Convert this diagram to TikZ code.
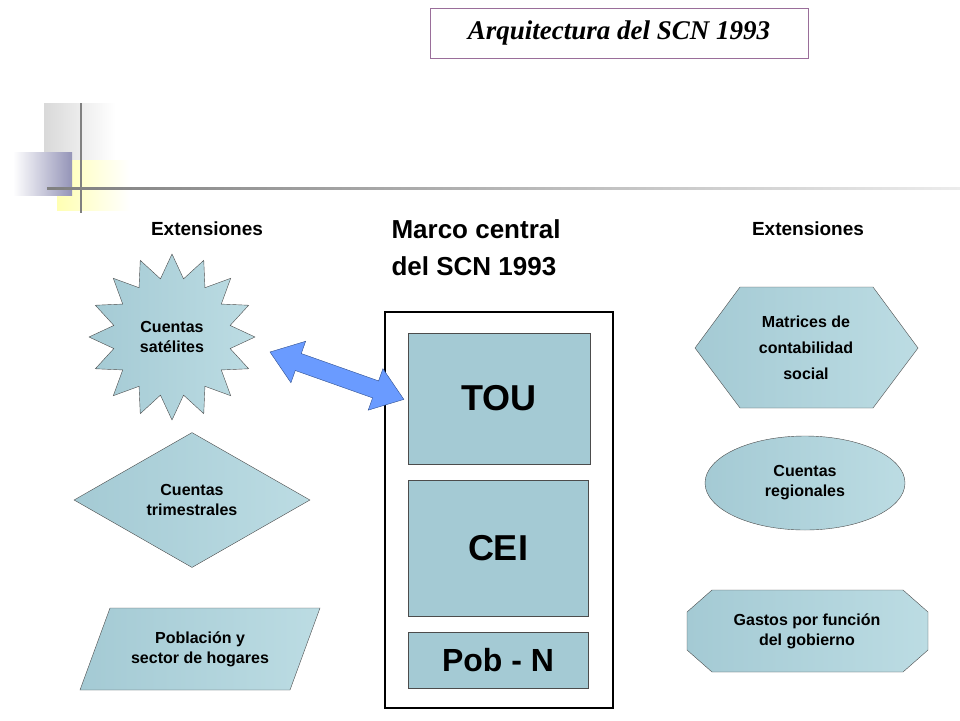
\documentclass[tikz,border=0pt]{standalone}
\usepackage{fontspec}
\setmainfont{Liberation Sans}
\newfontfamily\titlefont{Liberation Serif}
\usetikzlibrary{shapes.geometric, positioning}
\definecolor{boxblue}{HTML}{A4CAD4}
\definecolor{boxlight}{HTML}{BCDCE3}
\definecolor{arrowblue}{HTML}{6A9BFF}
\definecolor{arrowline}{HTML}{2E4F8F}
\definecolor{titleframe}{HTML}{9A6E9A}
\tikzset{
  ext/.style={left color=boxblue, right color=boxlight, draw=black!70, thin},
  exttext/.style={font=\fontsize{16}{20}\selectfont\bfseries, align=center},
  core/.style={fill=boxblue, draw=black!70, thin, inner sep=0pt},
  head/.style={font=\fontsize{19}{22}\selectfont\bfseries}
}
\begin{document}
\begin{tikzpicture}[x=1pt, y=-1pt]
    \useasboundingbox (0,0) rectangle (960,720);
    % decoration top left
    \fill[gray!45] (44,103) rectangle (110,160);
    \shade[left color=gray!30, right color=white] (44,103) rectangle (115,160);
    \fill[yellow!25!white!90!olive] (57,160) rectangle (128,210);
    \shade[left color=yellow!30, right color=white] (57,160) rectangle (130,210);
    \shade[left color=white, right color=blue!20!gray!70] (13,152) rectangle (72,195);
    \draw[gray, line width=1.5] (81,103) -- (81,213);
    \shade[left color=gray, right color=gray!15] (47,187) rectangle (960,189.5);
    % title
    \node[draw=titleframe, thin, minimum width=378, minimum height=50, font=\titlefont\fontsize{27}{30}\selectfont\bfseries\itshape] (title) at (619,33) {Arquitectura del SCN 1993};
    % headings
    \node[head] (extl) at (207,229) {Extensiones};
    \node[head] (extr) at (808,229) {Extensiones};
    \node[font=\fontsize{26}{37}\selectfont\bfseries, align=left, anchor=north west] (marco) at (388,216) {Marco central\\del SCN 1993};
    % central frame
    \draw[line width=2.5] (385,312) rectangle (613,708);
    \node[core, minimum width=182, minimum height=131, font=\fontsize{36}{40}\selectfont\bfseries] (tou) at (499,398.5) {TOU};
    \node[core, minimum width=180, minimum height=136, font=\fontsize{36}{40}\selectfont\bfseries] (cei) at (498,548) {CEI};
    \node[core, minimum width=180, minimum height=56, font=\fontsize{32}{36}\selectfont\bfseries] (pob) at (498,660) {Pob - N};
    % left extensions
    \node[star, star points=16, star point ratio=1.4, minimum size=166, ext, exttext] (sat) at (172,337) {Cuentas\\sat\'elites};
    \node[diamond, ext, exttext, minimum width=236, minimum height=135, inner sep=0pt] (trim) at (192,500) {Cuentas\\trimestrales};
    \path[ext] (110,608) -- (320,608) -- (290,690) -- (80,690) -- cycle;
    \node[exttext] (hog) at (200,649) {Poblaci\'on y\\sector de hogares};
    % right extensions
    \path[ext] (695,348) -- (740,287) -- (873,287) -- (918,348) -- (873,408) -- (740,408) -- cycle;
    \node[exttext, font=\fontsize{16}{26}\selectfont\bfseries] (mcs) at (806,348) {Matrices de\\contabilidad\\social};
    \node[ellipse, ext, exttext, minimum width=200, minimum height=94] (reg) at (805,483) {Cuentas\\regionales};
    \path[ext] (712,590) -- (903,590) -- (928,612) -- (928,650) -- (903,672) -- (712,672) -- (687,650) -- (687,612) -- cycle;
    \node[exttext] (gast) at (807,631) {Gastos por funci\'on\\del gobierno};
    % double arrow between satellite accounts and TOU
    \coordinate (arrA) at (270,352);
    \begin{scope}[shift={(arrA)}, rotate=-19.5]
      \path[fill=arrowblue, draw=arrowline, thin] (0,0) -- (30,22) -- (30,9) -- (112,9) -- (112,22) -- (142,0) -- (112,-22) -- (112,-9) -- (30,-9) -- (30,-22) -- cycle;
    \end{scope}
\end{tikzpicture}
\end{document}
